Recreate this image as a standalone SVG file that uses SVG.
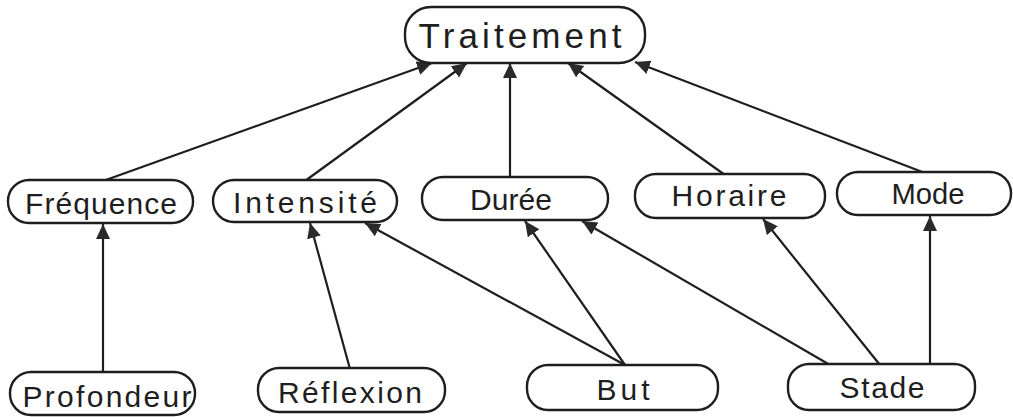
<svg xmlns="http://www.w3.org/2000/svg" width="1013" height="417" viewBox="0 0 1013 417">
  <style>
    .box { fill: #ffffff; stroke: #1e1e1e; stroke-width: 2.4; }
    .lbl { font-family: "Liberation Sans", Arial, sans-serif; font-size: 30px; fill: #1e1e1e; text-anchor: middle; }
    .root { font-size: 35px; }
    .edge { stroke: #1e1e1e; stroke-width: 2.2; fill: none; marker-end: url(#tip); }
  </style>
  <defs>
    <marker id="tip" markerUnits="userSpaceOnUse" markerWidth="16" markerHeight="15" refX="15" refY="7" orient="auto">
      <path d="M0,0 L15,7 L0,14 z" fill="#2a2a2a"/>
    </marker>
  </defs>
  <rect width="1013" height="417" fill="#ffffff"/>

  <g id="connectors">
    <line class="edge" x1="103" y1="181" x2="432" y2="63"/>
    <line class="edge" x1="305" y1="181" x2="467" y2="63"/>
    <line class="edge" x1="510" y1="178" x2="510" y2="63"/>
    <line class="edge" x1="725" y1="175" x2="568" y2="63"/>
    <line class="edge" x1="925" y1="173" x2="635" y2="62"/>
    <line class="edge" x1="103" y1="373" x2="103" y2="224"/>
    <line class="edge" x1="350" y1="369" x2="310" y2="223"/>
    <line class="edge" x1="625" y1="365" x2="365" y2="223"/>
    <line class="edge" x1="625" y1="365" x2="525" y2="221"/>
    <line class="edge" x1="830" y1="365" x2="582" y2="221"/>
    <line class="edge" x1="880" y1="365" x2="763" y2="219"/>
    <line class="edge" x1="930" y1="365" x2="930" y2="216"/>
  </g>

  <g id="traitement">
    <rect class="box" x="405" y="7" width="240" height="56" rx="26"/>
    <text class="lbl root" x="520" y="48" textLength="203" lengthAdjust="spacing">Traitement</text>
  </g>
  <g id="frequence">
    <rect class="box" x="8" y="180" width="185" height="43" rx="21"/>
    <text class="lbl" x="101" y="214" textLength="152" lengthAdjust="spacing">Fréquence</text>
  </g>
  <g id="intensite">
    <rect class="box" x="213" y="180" width="184" height="42" rx="21"/>
    <text class="lbl" x="305" y="213" textLength="144" lengthAdjust="spacing">Intensité</text>
  </g>
  <g id="duree">
    <rect class="box" x="422" y="177" width="186" height="43" rx="21"/>
    <text class="lbl" x="511" y="210" textLength="82" lengthAdjust="spacing">Durée</text>
  </g>
  <g id="horaire">
    <rect class="box" x="635" y="174" width="190" height="44" rx="21"/>
    <text class="lbl" x="729" y="206" textLength="115" lengthAdjust="spacing">Horaire</text>
  </g>
  <g id="mode">
    <rect class="box" x="837" y="172" width="174" height="43" rx="21"/>
    <text class="lbl" x="928" y="204" textLength="73" lengthAdjust="spacingAndGlyphs">Mode</text>
  </g>
  <g id="profondeur">
    <rect class="box" x="10" y="372" width="185" height="43" rx="21"/>
    <text class="lbl" x="107" y="407" textLength="169" lengthAdjust="spacing">Profondeur</text>
  </g>
  <g id="reflexion">
    <rect class="box" x="258" y="368" width="187" height="44" rx="21"/>
    <text class="lbl" x="350" y="403" textLength="144" lengthAdjust="spacing">Réflexion</text>
  </g>
  <g id="but">
    <rect class="box" x="527" y="365" width="191" height="45" rx="21"/>
    <text class="lbl" x="623" y="400" textLength="53" lengthAdjust="spacing">But</text>
  </g>
  <g id="stade">
    <rect class="box" x="788" y="364" width="187" height="46" rx="21"/>
    <text class="lbl" x="882" y="398" textLength="85" lengthAdjust="spacing">Stade</text>
  </g>
</svg>
